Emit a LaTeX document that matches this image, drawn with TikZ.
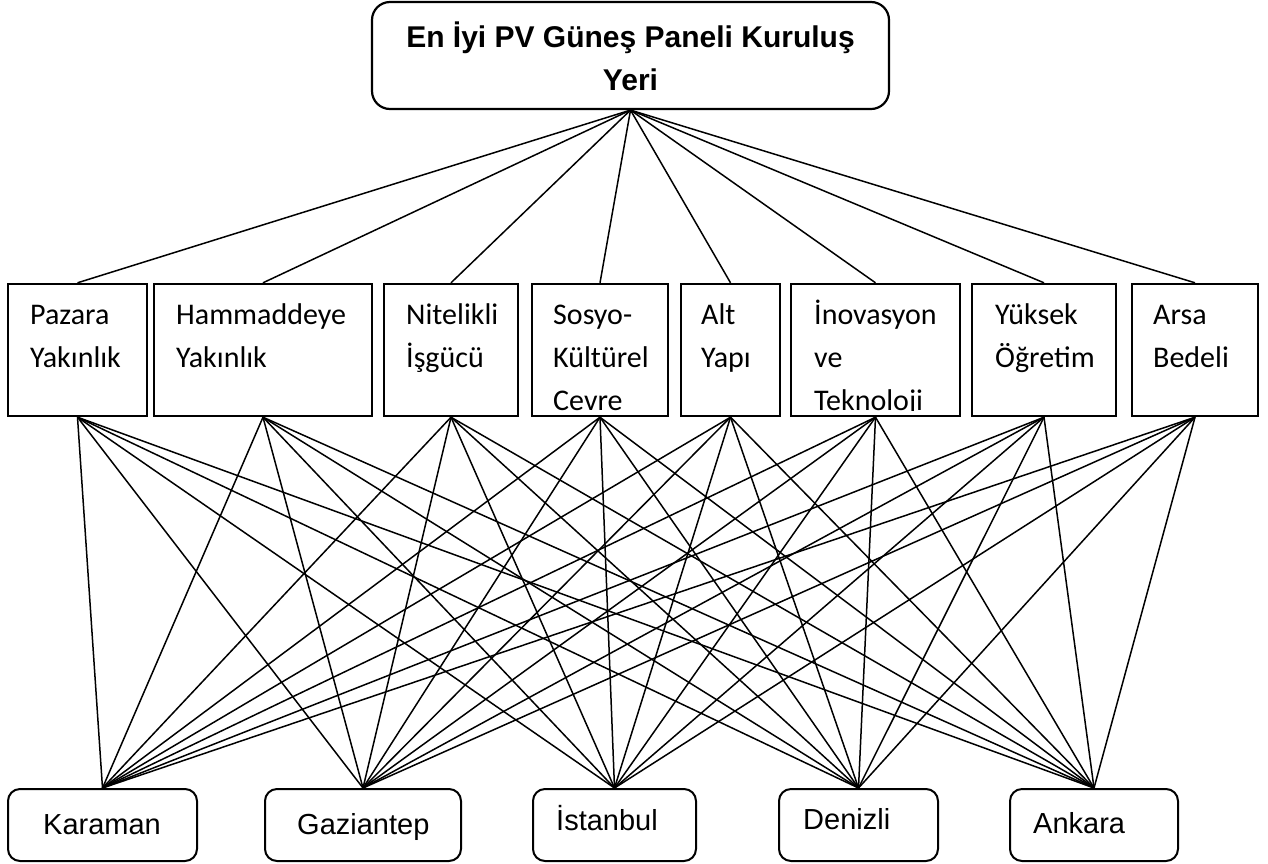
\documentclass[tikz,border=0pt]{standalone}
\usepackage{fontspec}
\setmainfont{Liberation Sans}
\newfontfamily\calib{Carlito}
\begin{document}
\begin{tikzpicture}[x=1pt,y=-1pt,
  topbox/.style={draw, line width=2.2pt, rounded corners=18pt, minimum width=517pt, minimum height=107pt, inner sep=0pt},
  midbox/.style={draw, line width=2.4pt, minimum height=132pt, inner sep=0pt},
  botbox/.style={draw, line width=2pt, rounded corners=12pt, minimum height=72pt, inner sep=0pt},
  toptext/.style={anchor=base, inner sep=0pt, font=\bfseries\fontsize{30}{36}\selectfont},
  midtext/.style={anchor=base west, inner sep=0pt, font=\calib\fontsize{30}{36}\selectfont},
  bottext/.style={anchor=base west, inner sep=0pt, font=\fontsize{29}{34}\selectfont},
  link/.style={line width=1.5pt},
]
\useasboundingbox (0,0) rectangle (1268,863);

% top box
\node[topbox] (top) at (630.5,55.5) {};
\node[toptext] (top1) at (630.5,47) {En İyi PV Güneş Paneli Kuruluş};
\node[toptext] (top2) at (630.5,90) {Yeri};

% middle boxes
\node[midbox, minimum width=139pt] (m1) at (77.5,350) {};
\node[midbox, minimum width=218pt] (m2) at (263,350) {};
\node[midbox, minimum width=134pt] (m3) at (451,350) {};
\node[midbox, minimum width=136pt] (m4) at (600,350) {};
\node[midbox, minimum width=99pt]  (m5) at (730.5,350) {};
\node[midbox, minimum width=169pt] (m6) at (875.5,350) {};
\node[midbox, minimum width=144pt] (m7) at (1044,350) {};
\node[midbox, minimum width=126pt] (m8) at (1195,350) {};

\node[midtext] (t1a) at (30,324) {Pazara};
\node[midtext] (t1b) at (30,367) {Yakınlık};
\node[midtext] (t2a) at (176,324) {Hammaddeye};
\node[midtext] (t2b) at (176,367) {Yakınlık};
\node[midtext] (t3a) at (406,324) {Nitelikli};
\node[midtext] (t3b) at (406,367) {İşgücü};
\node[midtext] (t4a) at (553,324) {Sosyo-};
\node[midtext] (t4b) at (553,367) {Kültürel};
\begin{scope}
  \clip (532,290) rectangle (668,410.5);
  \node[midtext] (t4c) at (553,410) {Cevre};
\end{scope}
\node[midtext] (t5a) at (701,324) {Alt};
\node[midtext] (t5b) at (701,367) {Yapı};
\node[midtext] (t6a) at (814,324) {İnovasyon};
\node[midtext] (t6b) at (814,367) {ve};
\begin{scope}
  \clip (791,290) rectangle (960,410.5);
  \node[midtext] (t6c) at (814,410) {Teknoloji};
\end{scope}
\node[midtext] (t7a) at (995,324) {Yüksek};
\node[midtext] (t7b) at (995,367) {Öğretim};
\node[midtext] (t8a) at (1153,324) {Arsa};
\node[midtext] (t8b) at (1153,367) {Bedeli};

% bottom boxes
\node[botbox, minimum width=189pt] (b1) at (102.5,825) {};
\node[botbox, minimum width=196pt] (b2) at (363,825) {};
\node[botbox, minimum width=163pt] (b3) at (614.5,825) {};
\node[botbox, minimum width=159pt] (b4) at (858.5,825) {};
\node[botbox, minimum width=168pt] (b5) at (1094,825) {};

\node[bottext] (c1) at (43,834) {Karaman};
\node[bottext] (c2) at (297,834) {Gaziantep};
\node[bottext] (c3) at (556,830) {İstanbul};
\node[bottext] (c4) at (803,829) {Denizli};
\node[bottext] (c5) at (1033,833) {Ankara};

% connectors
\foreach \m in {m1,m2,m3,m4,m5,m6,m7,m8}
  \draw[link] (top.south) -- (\m.north);
\foreach \m in {m1,m2,m3,m4,m5,m6,m7,m8}
  \foreach \b in {b1,b2,b3,b4,b5}
    \draw[link] (\m.south) -- (\b.north);
\end{tikzpicture}
\end{document}
